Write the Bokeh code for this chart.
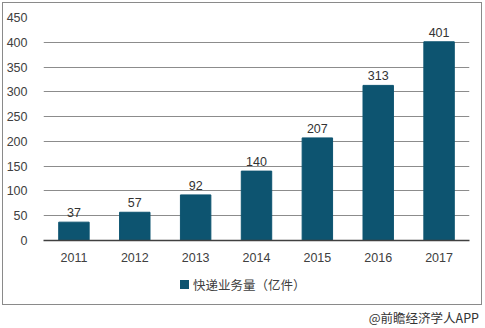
from bokeh.plotting import figure
from bokeh.models import ColumnDataSource, LabelSet, FixedTicker, Div
from bokeh.layouts import column
from bokeh.core.properties import value
from bokeh.embed import file_html
from bokeh.resources import INLINE

years = ["2011", "2012", "2013", "2014", "2015", "2016", "2017"]
volume = [37, 57, 92, 140, 207, 313, 401]
y_ticks = [0, 50, 100, 150, 200, 250, 300, 350, 400, 450]
series_name = "快递业务量（亿件）"
source_note = "@前瞻经济学人APP"

bar_color = "#0D5470"
num_font = "Liberation Sans"
cjk_font = "Noto Sans CJK SC"

src = ColumnDataSource(dict(x=years, y=volume, lab=[str(v) for v in volume]))

p = figure(x_range=years, y_range=(0, 450), width=478, height=265,
           output_backend="svg", toolbar_location=None,
           min_border_left=39, min_border_right=12, min_border_top=14, min_border_bottom=28)
p.background_fill_color = "white"
p.border_fill_color = "white"
p.outline_line_color = None

r = p.vbar(x="x", top="y", width=0.5, source=src, color=bar_color)

p.xgrid.grid_line_color = None
p.ygrid.grid_line_color = "#8c8c8c"
p.ygrid.grid_line_width = 1
p.yaxis.ticker = FixedTicker(ticks=y_ticks)
p.yaxis.axis_line_color = None
p.yaxis.major_tick_line_color = None
p.yaxis.minor_tick_line_color = None
p.yaxis.major_label_standoff = 10
p.yaxis.major_label_text_font = num_font
p.yaxis.major_label_text_font_size = "12.5px"
p.yaxis.major_label_text_color = "#404040"

p.xaxis.axis_line_color = "#404040"
p.xaxis.axis_line_width = 1.5
p.xaxis.major_tick_line_color = None
p.xaxis.minor_tick_line_color = None
p.xaxis.major_label_standoff = 6
p.xaxis.major_label_text_font = num_font
p.xaxis.major_label_text_font_size = "12.5px"
p.xaxis.major_label_text_color = "#404040"

labels = LabelSet(x="x", y="y", text="lab", source=src, y_offset=5,
                  text_align="center", text_baseline="bottom",
                  text_font=value(num_font), text_font_size=value("12.5px"),
                  text_color="#333333")
p.add_layout(labels)

legend_html = ('<span style="display:inline-block;width:9px;height:9px;background:%s;'
               'margin-right:4px;vertical-align:middle"></span>'
               '<span style="vertical-align:middle">%s</span>') % (bar_color, series_name)
legend_div = Div(text=legend_html, width=478, height=36, margin=0,
                 styles={"font-family": cjk_font, "font-size": "12.5px", "color": "#404040",
                         "padding-left": "177px", "padding-top": "6px",
                         "box-sizing": "border-box", "background": "white"})

inner = column(p, legend_div, spacing=0, margin=(3, 3, 0, 3),
               styles={"outline": "1px solid #8a8a8a", "outline-offset": "0px"})

note = Div(text=source_note, width=485, height=24, margin=0,
           styles={"font-family": cjk_font, "font-size": "12.5px", "color": "#333333",
                   "text-align": "right", "padding-right": "6px", "padding-top": "5px",
                   "box-sizing": "border-box"})

layout = column(inner, note, spacing=0)
open("out.html", "w").write(file_html(layout, INLINE))
